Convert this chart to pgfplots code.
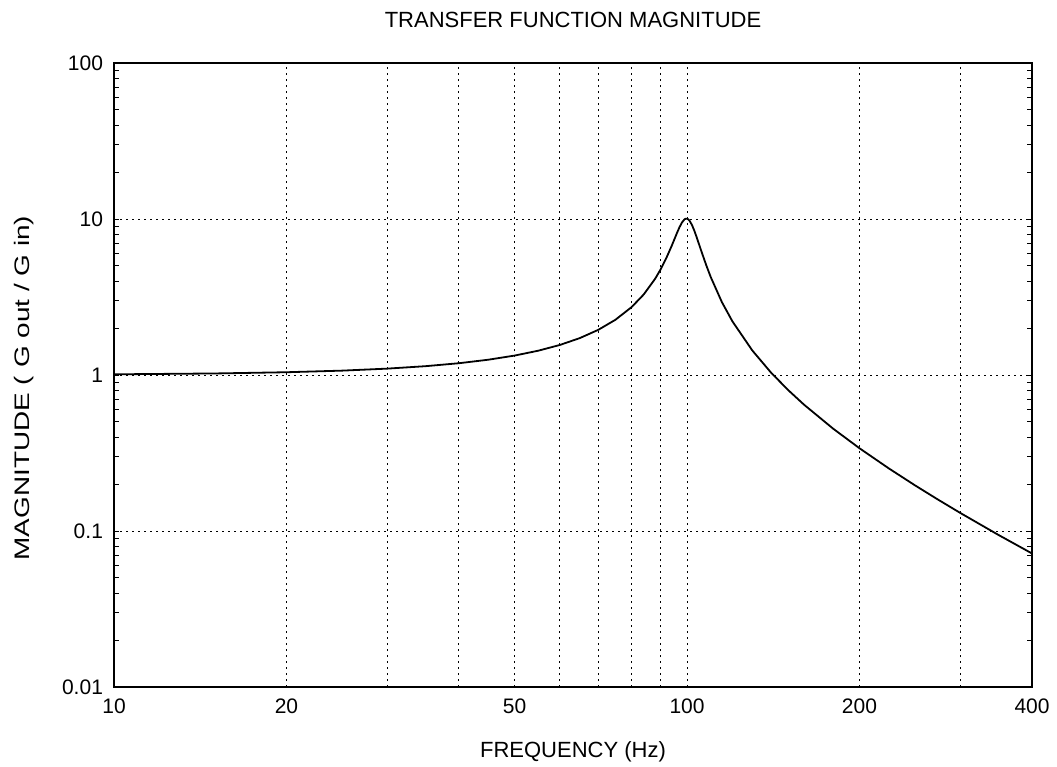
\documentclass[border=0pt]{standalone}
\usepackage{fontspec}
\setmainfont{Liberation Sans}
\usepackage{graphicx}
\usepackage{pgfplots}
\pgfplotsset{compat=1.18}

% transfer function magnitude
\pgfplotstableread{
f      mag
10     1.0101
15     1.0230
20     1.0417
25     1.0666
30     1.0988
35     1.1394
40     1.1901
45     1.2532
50     1.3320
55     1.4314
60     1.5585
65     1.7243
70     1.9473
75     2.2592
80     2.7203
84     3.2779
88     4.1455
90     4.7757
92     5.6088
94     6.7131
95     7.379
96     8.1049
97     8.845
98     9.506
99     9.951
99.5   10.05
100    10.05
100.5  9.951
101    9.760
102    9.162
103    8.401
104    7.6055
106    6.1758
108    5.0703
110    4.2437
115    2.9399
120    2.2084
130    1.4362
140    1.0408
150    0.8032
160    0.6458
180    0.4521
200    0.3392
225    0.2519
250    0.1961
275    0.1579
300    0.1304
350    0.09413
400    0.07178
}\magdata

\begin{document}
\begin{tikzpicture}
\begin{axis}[
  scale only axis,
  width=459pt, height=312pt,
  xmode=log, ymode=log,
  xmin=10, xmax=400, ymin=0.01, ymax=100,
  font=\fontsize{10.5}{12}\selectfont,
  /pgf/number format/assume math mode=true,
  xtick={10,20,50,100,200,400},
  xticklabels={10,20,50,100,200,400},
  minor xtick={30,40,60,70,80,90,300},
  ytick={0.01,0.1,1,10,100},
  yticklabels={0.01,0.1,1,10,100},
  xtick style={draw=none},
  minor x tick style={draw=none},
  ytick pos=both, ytick align=inside,
  major tick length=2.5pt, minor tick length=2.5pt,
  xmajorgrids, xminorgrids, ymajorgrids,
  grid style={black, line width=0.5pt, dash pattern=on 0.8pt off 2.2pt},
  axis line style={line width=1pt},
  tick style={black, line width=0.5pt},
  yticklabel style={xshift=-2pt},
  xticklabel style={yshift=-2.5pt},
  title={TRANSFER FUNCTION MAGNITUDE},
  title style={at={(axis description cs:0.5,1.0369)}, anchor=base, inner sep=0pt,
    font=\fontsize{11}{13}\selectfont},
  xlabel={FREQUENCY (Hz)},
  xlabel style={at={(axis description cs:0.5,-0.1122)}, anchor=base, inner sep=0pt,
    font=\fontsize{11}{13}\selectfont},
  ylabel={\scalebox{1.33}[1]{MAGNITUDE ( G out / G in)}},
  ylabel style={at={(axis description cs:-0.0915,0.479)}, anchor=base, inner sep=0pt},
]
\addplot[black, line width=0.9pt] table[x=f, y=mag] {\magdata};
\end{axis}
\path (current axis.south west) ++(-57pt,-40pt) coordinate (bl);
\path (current axis.north east) ++(12.5pt,31.5pt) coordinate (tr);
\useasboundingbox (bl) rectangle (tr);
\end{tikzpicture}
\end{document}
